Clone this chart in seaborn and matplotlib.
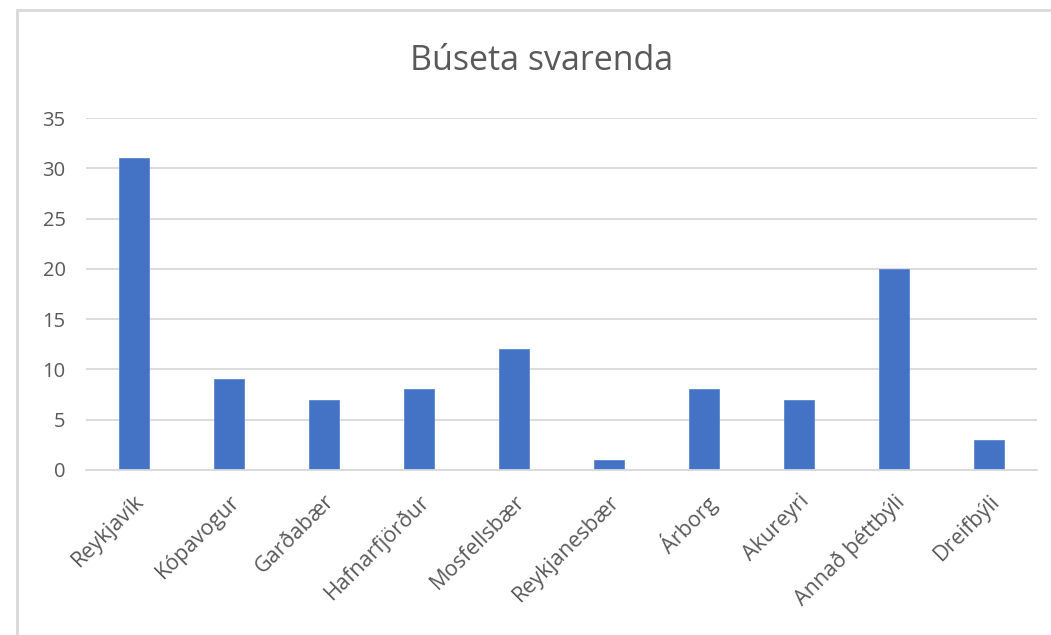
import matplotlib
matplotlib.use("Agg")
import matplotlib.pyplot as plt
import seaborn as sns
import pandas as pd
from matplotlib.lines import Line2D

categories = ["Reykjavík", "Kópavogur", "Garðabær", "Hafnarfjörður", "Mosfellsbær",
              "Reykjanesbær", "Árborg", "Akureyri", "Annað þéttbýli", "Dreifbýli"]
values = [31, 9, 7, 8, 12, 1, 8, 7, 20, 3]
yticks = [0, 5, 10, 15, 20, 25, 30, 35]
title = "Búseta svarenda"

sns.set_theme(style="white")
plt.rcParams['font.family'] = ['Open Sans', 'DejaVu Sans']

df = pd.DataFrame({"cat": categories, "val": values})

fig = plt.figure(figsize=(10.51, 6.35), dpi=100)
ax = fig.add_axes([0.0823, 0.26, 0.904, 0.554])
sns.barplot(data=df, x="cat", y="val", color="#4472C4", width=0.32, ax=ax,
            saturation=1, edgecolor="#5B86D0", linewidth=0.6)
ax.set_ylim(0, 35)
ax.set_yticks(yticks)
ax.set_xlim(-0.5, len(categories) - 0.5)
ax.yaxis.grid(True, color="#D9D9D9", linewidth=1.3)
ax.set_axisbelow(True)
for s in ["top", "right", "left"]:
    ax.spines[s].set_visible(False)
ax.spines["bottom"].set_color("#D9D9D9")
ax.spines["bottom"].set_linewidth(1.3)
ax.set_xlabel("")
ax.set_ylabel("")
ax.tick_params(axis="y", length=0, labelsize=14.5, labelcolor="#595959", pad=15)
ax.tick_params(axis="x", length=0, labelsize=15.5, labelcolor="#595959", pad=15)
plt.setp(ax.get_xticklabels(), rotation=45, ha="right", rotation_mode="anchor")
fig.text(0.515, 1 - 70 / 635, title, ha="center", va="baseline", fontsize=24.5, color="#595959")

# outer chart frame (top and left edge)
fig.add_artist(Line2D([16.5 / 1051, 1], [1 - 9.5 / 635, 1 - 9.5 / 635],
                      transform=fig.transFigure, color="#D9D9D9", linewidth=2))
fig.add_artist(Line2D([16.5 / 1051, 16.5 / 1051], [0, 1 - 9.5 / 635],
                      transform=fig.transFigure, color="#D9D9D9", linewidth=2))

fig.savefig("out.png", dpi=100, facecolor="white")
